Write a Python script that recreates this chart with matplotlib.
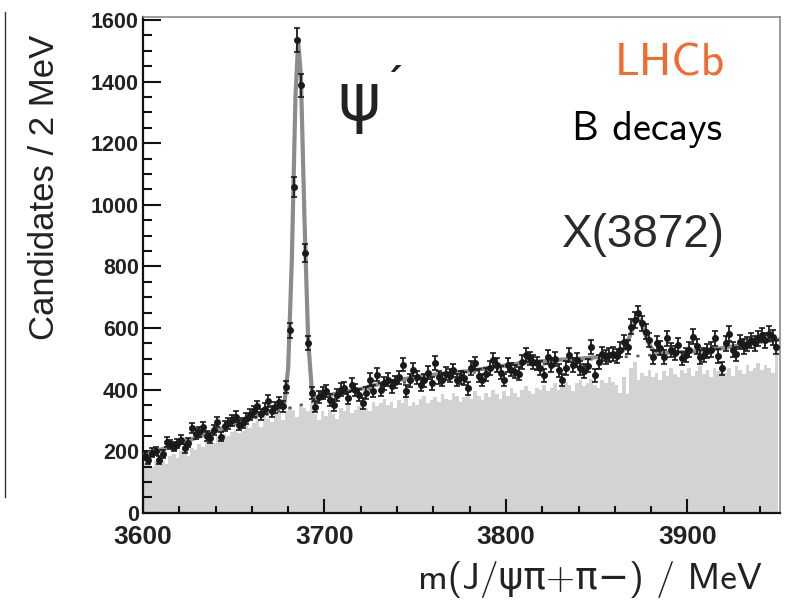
import numpy as np
import matplotlib
matplotlib.use("Agg")
import matplotlib.pyplot as plt
from matplotlib.lines import Line2D

# bin centres, 2 MeV wide, 3601 ... 3949
centres = np.arange(3601, 3950, 2)

# B candidates (points with error bars)
data = [
    185, 172, 195, 200, 172, 190, 230, 222, 215, 224,   # 3601
    237, 210, 228, 275, 255, 262, 278, 250, 243, 270,   # 3621
    295, 247, 282, 290, 300, 312, 285, 292, 305, 318,   # 3641
    330, 345, 320, 338, 362, 330, 342, 358, 345, 408,   # 3661
    593, 1057, 1535, 1388, 843, 551, 389, 344, 377, 389,  # 3681
    395, 365, 350, 382, 400, 405, 372, 416, 398, 383,   # 3701
    355, 388, 432, 395, 448, 400, 420, 432, 410, 425,   # 3721
    440, 481, 395, 430, 465, 440, 416, 430, 454, 420,   # 3741
    487, 440, 432, 452, 445, 463, 431, 440, 436, 404,   # 3761
    470, 485, 445, 431, 450, 470, 496, 480, 455, 431,   # 3781
    480, 465, 458, 452, 490, 512, 501, 490, 485, 470,   # 3801
    447, 507, 480, 500, 463, 431, 470, 512, 480, 496,   # 3821
    470, 460, 478, 539, 447, 490, 517, 505, 512, 515,   # 3841
    510, 530, 555, 539, 604, 626, 647, 615, 588, 561,   # 3861
    507, 550, 534, 507, 566, 528, 520, 544, 501, 512,   # 3881
    530, 572, 540, 507, 512, 525, 530, 566, 510, 469,   # 3901
    550, 582, 530, 515, 555, 540, 548, 560, 550, 566,   # 3921
    577, 560, 582, 570, 539,                            # 3941
]

# light grey histogram underneath
grey_hist = [
    160, 175, 150, 168, 180, 172, 158, 185, 190, 178,
    200, 195, 185, 210, 205, 222, 215, 230, 240, 228,
    248, 235, 255, 250, 262, 270, 258, 265, 280, 275,
    290, 300, 278, 310, 305, 295, 320, 330, 300, 330,
    345, 335, 310, 350, 340, 330, 355, 320, 300, 330,
    315, 335, 320, 305, 340, 330, 350, 325, 335, 345,
    355, 340, 330, 360, 345, 355, 370, 350, 360, 340,
    365, 355, 375, 345, 360, 350, 370, 380, 355, 365,
    375, 360, 385, 370, 365, 390, 380, 360, 375, 385,
    370, 395, 380, 365, 390, 375, 400, 385, 370, 395,
    380, 405, 390, 375, 400, 410, 395, 385, 405, 400,
    415, 395, 405, 420, 400, 410, 425, 415, 395, 420,
    430, 410, 420, 435, 415, 405, 430, 420, 440, 425,
    415, 390, 440, 385, 470, 490, 430, 455, 445, 465,
    440, 455, 430, 460, 445, 470, 450, 440, 465, 455,
    470, 445, 460, 475, 450, 465, 440, 470, 460, 480,
    455, 470, 445, 475, 465, 450, 480, 460, 470, 485,
    465, 480, 470, 455, 540,
]

# fit curve (grey line)
fit_x = [3600, 3610, 3620, 3630, 3640, 3650, 3660, 3670, 3676, 3678,
         3680, 3682, 3684, 3685.5, 3687, 3689, 3691, 3693, 3695, 3700,
         3710, 3720, 3730, 3740, 3750, 3760, 3770, 3780, 3790, 3800,
         3810, 3820, 3830, 3840, 3850, 3858, 3862, 3865, 3868, 3870,
         3872, 3874, 3876, 3879, 3882, 3886, 3890, 3900, 3910, 3920,
         3930, 3940, 3950]
fit_y = [188, 205, 224, 245, 266, 288, 310, 330, 342, 360,
         470, 820, 1350, 1530, 1420, 950, 560, 400, 372, 378,
         392, 402, 418, 430, 440, 448, 455, 460, 470, 478,
         488, 492, 497, 500, 505, 510, 515, 530, 570, 600,
         630, 625, 590, 545, 520, 515, 520, 522, 528, 535,
         545, 555, 562]

# background component (dotted)
bkg_x = [3600, 3650, 3700, 3750, 3800, 3850, 3900, 3950]
bkg_y = [188, 288, 372, 430, 470, 500, 520, 560]

x_ticks = [3600, 3700, 3800, 3900]
y_ticks = [0, 200, 400, 600, 800, 1000, 1200, 1400, 1600]

W, H = 787, 611
def fx(x):
    return x / W
def fy(y):
    return 1 - y / H

fig = plt.figure(figsize=(W / 100, H / 100), dpi=100)
ax = fig.add_axes([fx(143), fy(512.7), (780 - 143) / W, (512.7 - 17) / H])

ax.bar(centres, grey_hist, width=2.0, color="#d3d3d3", linewidth=0, zorder=1)
ax.plot(bkg_x, bkg_y, color="#555555", lw=1.8, ls=(0, (1.2, 3.5)), zorder=2)
ax.plot(fit_x, fit_y, color="#8c8c8c", lw=3.0, zorder=3)
data = np.array(data)
ax.errorbar(centres, data, yerr=np.sqrt(data), fmt="o", ms=4.0, color="#1a1a1a",
            ecolor="#1a1a1a", elinewidth=1.3, capsize=2.0, capthick=1.2, zorder=4)

ax.set_xlim(3600, 3951)
ax.set_ylim(0, 1610)
ax.set_xticks(x_ticks)
ax.set_xticklabels([str(t) for t in x_ticks], fontsize=19, fontweight="bold",
                   family="Liberation Sans", color="#222222")
ax.set_xticks(np.arange(3600, 3951, 20), minor=True)
ax.set_yticks(y_ticks)
ax.set_yticklabels([str(t) for t in y_ticks], fontsize=15.5, fontweight="bold",
                   family="Liberation Sans", color="#222222")
ax.set_yticks(np.arange(0, 1601, 50), minor=True)
ax.tick_params(axis="both", which="both", direction="in", color="#111111", width=1.5)
ax.tick_params(axis="y", which="major", length=13, pad=3)
ax.tick_params(axis="y", which="minor", length=6.5)
ax.tick_params(axis="x", which="major", length=10, pad=9)
ax.tick_params(axis="x", which="minor", length=5)
ax.spines["left"].set_linewidth(1.6)
ax.spines["bottom"].set_linewidth(1.6)
ax.spines["left"].set_color("#111111")
ax.spines["bottom"].set_color("#111111")
for s in ("top", "right"):
    ax.spines[s].set_color("#8a8a8a")
    ax.spines[s].set_linewidth(1.2)

# labels and annotations
fig.text(fx(45), fy(187), "Candidates / 2 MeV", rotation=90, ha="center", va="center",
         fontsize=25, family="Liberation Sans", color="#222222")
fig.text(fx(762), fy(580), "m(J/ψπ+π−) / MeV", ha="right", va="center",
         fontsize=27, family=["cmss10", "DejaVu Sans"], color="#222222")
fig.text(fx(725), fy(75), "LHCb", ha="right", va="baseline", fontsize=33,
         family="cmss10", color="#f26a2e")
fig.text(fx(722), fy(140), "B decays", ha="right", va="baseline", fontsize=29,
         family="cmss10", color="black")
fig.text(fx(725), fy(247), "X(3872)", ha="right", va="baseline", fontsize=33,
         family="Liberation Sans", color="#2a2a2a")
fig.text(fx(337), fy(102), "ψ", ha="left", va="center", fontsize=47,
         family="DejaVu Sans", color="#222222")
fig.text(fx(383), fy(96), "´", ha="left", va="baseline", fontsize=28,
         family="DejaVu Sans", color="#222222", fontweight="bold")

# edge of the neighbouring panel
fig.add_artist(Line2D([fx(5), fx(5)], [fy(12), fy(497)], color="#333333", lw=1.0))

fig.savefig("out.png", dpi=100)
